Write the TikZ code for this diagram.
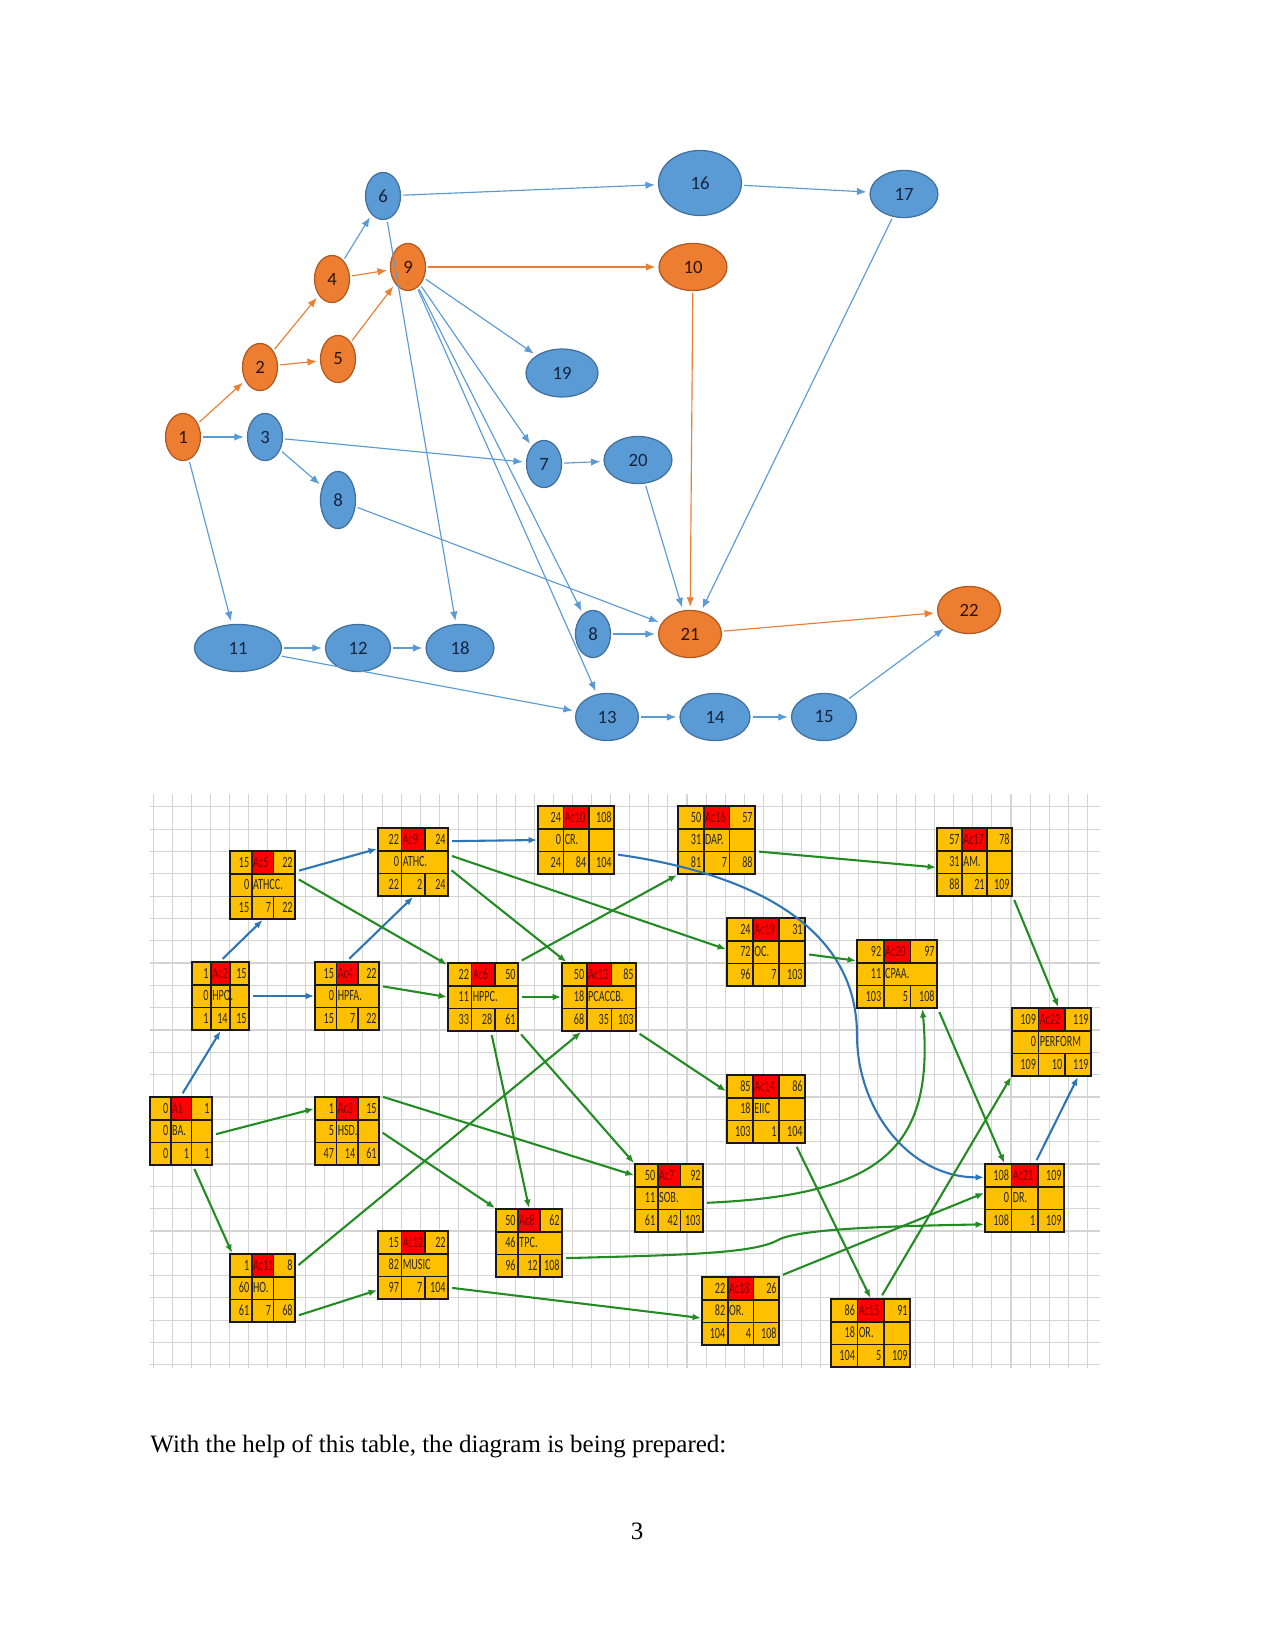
\documentclass[tikz,border=0pt]{standalone}
\usepackage{fontspec}
\setmainfont{Liberation Serif}
\newfontfamily\diafont{Carlito}
\newfontfamily\cellfont[FakeStretch=0.65]{Carlito}
\usetikzlibrary{arrows.meta,shapes.geometric}

\definecolor{evblue}{HTML}{5B9BD5}
\definecolor{evblueline}{HTML}{41719C}
\definecolor{evorange}{HTML}{ED7D31}
\definecolor{evorangeline}{HTML}{AE5A21}
\definecolor{evtext}{HTML}{16243F}
\definecolor{evtextdark}{HTML}{2E1506}
\definecolor{cellyellow}{HTML}{FFC000}
\definecolor{cellred}{HTML}{FF0000}
\definecolor{celldark}{HTML}{7A0000}
\definecolor{linkgreen}{HTML}{228B22}
\definecolor{linkblue}{HTML}{2E75B6}
\definecolor{gridgray}{HTML}{D4D4D4}

\newcommand{\actbox}[7][1]{%
  \begin{scope}[shift={(#3)}]
    \fill[cellyellow] (0,0) rectangle (#4,68);
    \fill[cellred] (#4/3,0) rectangle (2*#4/3,68/3);
    \draw[cellline] (0,68/3) -- (#4,68/3) (0,136/3) -- (#4,136/3)
      (#4/3,0) -- (#4/3,68) (2*#4/3,0) -- (2*#4/3,68/3) (2*#4/3,136/3) -- (2*#4/3,68);
    \ifnum#1=1 \draw[cellline] (2*#4/3,68/3) -- (2*#4/3,136/3);\fi
    \node[boxframe, minimum width=#4*0.48pt] (#2) at (#4/2,34) {};
    \foreach \ta/\tb/\tc in {#5} {
      \node[celltext, anchor=mid east] at (#4/3-2,11.3) {\ta};
      \node[celltext, anchor=mid west, text=celldark] at (#4/3+1,11.3) {\tb};
      \node[celltext, anchor=mid east] at (#4-2,11.3) {\tc};}
    \foreach \ma/\mb in {#6} {
      \node[celltext, anchor=mid east] at (#4/3-2,34) {\ma};
      \node[celltext, anchor=mid west] at (#4/3+1,34) {\mb};}
    \foreach \ba/\bb/\bc in {#7} {
      \node[celltext, anchor=mid east] at (#4/3-2,56.7) {\ba};
      \node[celltext, anchor=mid east] at (2*#4/3-2,56.7) {\bb};
      \node[celltext, anchor=mid east] at (#4-2,56.7) {\bc};}
  \end{scope}}

\begin{document}
\begin{tikzpicture}[x=0.48pt,y=-0.48pt,
   ev/.style={ellipse, draw, line width=0.6pt, inner sep=0pt, font=\diafont\fontsize{9}{10}\selectfont},
   evb/.style={ev, fill=evblue, draw=evblueline, text=evtext},
   evo/.style={ev, fill=evorange, draw=evorangeline, text=evtextdark},
   evsize/.style 2 args={minimum width=#1, minimum height=#2},
   topblue/.style={evblue, line width=0.55pt, -{Latex[length=4.5pt,width=3.6pt]}, shorten >=1.5pt, shorten <=1pt},
   toporange/.style={evorange, line width=0.55pt, -{Latex[length=4.5pt,width=3.6pt]}, shorten >=1.5pt, shorten <=1pt},
   cellline/.style={black!90, line width=0.8pt},
   boxframe/.style={draw=black!90, line width=1pt, rectangle, inner sep=0pt, minimum height=32.64pt},
   celltext/.style={inner sep=0pt, font=\cellfont\fontsize{7.5}{9}\selectfont, text=black!85},
   gridline/.style={gridgray, line width=0.5pt},
   linkg/.style={linkgreen, line width=1pt, -{Latex[length=4pt,width=3.2pt]}, shorten <=1.5pt},
   linkb/.style={linkblue, line width=1pt, -{Latex[length=4pt,width=3.2pt]}, shorten <=1.5pt}]
   \fill[white] (0,0) rectangle (1275,1650);
   \useasboundingbox (0,0) rectangle (1275,1650);

   \node[evo, evsize={16.8pt}{22.6pt}] (n1) at (183,437) {1};
   \node[evo, evsize={16.8pt}{22.6pt}] (n2) at (260,367) {2};
   \node[evb, evsize={16.8pt}{22.6pt}] (n3) at (265,437) {3};
   \node[evo, evsize={16.8pt}{22.6pt}] (n4) at (332,279) {4};
   \node[evo, evsize={16.8pt}{22.6pt}] (n5) at (338,359) {5};
   \node[evb, evsize={16.8pt}{22.6pt}] (n6) at (383,196) {6};
   \node[evo, evsize={16.8pt}{22.6pt}] (n9) at (408,267) {9};
   \node[evb, evsize={34.6pt}{23pt}] (n19) at (562,373) {19};
   \node[evb, evsize={16.8pt}{22.6pt}] (n7) at (544,464) {7};
   \node[evb, evsize={16.8pt}{27.4pt}] (n8a) at (338,500) {8};
   \node[evb, evsize={32.6pt}{22.6pt}] (n20) at (638,460) {20};
   \node[evb, evsize={39.8pt}{31.2pt}] (n16) at (700,183) {16};
   \node[evb, evsize={32.6pt}{22.6pt}] (n17) at (904,194) {17};
   \node[evo, evsize={32.6pt}{22.6pt}] (n10) at (693,267) {10};
   \node[evb, evsize={41.8pt}{22.6pt}] (n11) at (238,648) {11};
   \node[evb, evsize={31.2pt}{22.6pt}] (n12) at (358,648) {12};
   \node[evb, evsize={32.6pt}{22.6pt}] (n18) at (460,648) {18};
   \node[evb, evsize={16.8pt}{22.6pt}] (n8b) at (593,634) {8};
   \node[evo, evsize={30.2pt}{22.6pt}] (n21) at (690,634) {21};
   \node[evo, evsize={30.2pt}{22.6pt}] (n22) at (969,610) {22};
   \node[evb, evsize={30.2pt}{22.6pt}] (n13) at (607,717) {13};
   \node[evb, evsize={33.6pt}{22.6pt}] (n14) at (715,717) {14};
   \node[evb, evsize={31.2pt}{22.6pt}] (n15) at (824,717) {15};

   \path[toporange]
    (n1) edge (n2)
    (n2) edge (n4)
         edge (n5)
    (n4) edge (n9)
    (n5) edge (n9)
    (n9) edge (n10)
    (n10) edge (n21)
    (n21) edge (n22);
   \path[topblue]
    (n1) edge (n3)
         edge (n11)
    (n3) edge (n7)
         edge (n8a)
    (n4) edge (n6)
    (n6) edge (n16)
         edge (n18)
    (n16) edge (n17)
    (n17) edge (n21)
    (n9) edge (n19)
         edge (n7)
         edge (n8b)
         edge (n13)
    (n7) edge (n20)
    (n20) edge (n21)
    (n8a) edge (n21)
    (n8b) edge (n21)
    (n11) edge (n12)
          edge (n13)
    (n12) edge (n18)
    (n13) edge (n14)
    (n14) edge (n15)
    (n15) edge (n22);

   \begin{scope}
    \clip (150,794) rectangle (1100,1368);
    \foreach \gx in {0,...,49}
      \draw[gridline] (153.3+\gx*19.06,794) -- (153.3+\gx*19.06,1368);
    \foreach \gy in {0,...,25}
      \draw[gridline] (150,806.7+\gy*22.33) -- (1100,806.7+\gy*22.33);
   \end{scope}

   \actbox{a1}{150,1097}{62}{0/A1/1}{0/BA.}{0/1/1}
   \actbox{ac2}{192,962}{57}{1/Ac2/15}{0/HPO.}{1/14/15}
   \actbox{ac3}{315,1097}{64}{1/Ac3/15}{5/HSD.}{47/14/61}
   \actbox[0]{ac4}{315,962}{64}{15/Ac4/22}{0/HPFA.}{15/7/22}
   \actbox[0]{ac5}{230,851}{65}{15/Ac5/22}{0/ATHCC.}{15/7/22}
   \actbox[0]{ac6}{448,963}{70}{22/Ac6/50}{11/HPPC.}{33/28/61}
   \actbox[0]{ac7}{635,1164}{68}{50/Ac7/92}{11/SOB.}{61/42/103}
   \actbox[0]{ac8}{496,1209}{66}{50/Ac8/62}{46/TPC.}{96/12/108}
   \actbox[0]{ac9}{378,828}{70}{22/Ac9/24}{0/ATHC.}{22/2/24}
   \actbox{ac10}{538,806}{76}{24/Ac10/108}{0/CR.}{24/84/104}
   \actbox{ac11}{230,1254}{65}{1/Ac11/8}{60/HO.}{61/7/68}
   \actbox[0]{ac12}{378,1231}{70}{15/Ac12/22}{82/MUSIC}{97/7/104}
   \actbox[0]{ac13}{562,963}{74}{50/Ac13/85}{18/PCACCB.}{68/35/103}
   \actbox{ac14}{727,1075}{78}{85/Ac14/86}{18/EIIC}{103/1/104}
   \actbox{ac15}{831,1299}{79}{86/Ac15/91}{18/OR.}{104/5/109}
   \actbox{ac16}{678,806}{77}{50/Ac16/57}{31/DAP.}{81/7/88}
   \actbox{ac17}{937,828}{75}{57/Ac17/78}{31/AM.}{88/21/109}
   \actbox{ac18}{702,1277}{77}{22/Ac18/26}{82/OR.}{104/4/108}
   \actbox{ac19}{727,918}{78}{24/Ac19/31}{72/OC.}{96/7/103}
   \actbox[0]{ac20}{857,940}{80}{92/Ac20/97}{11/CPAA.}{103/5/108}
   \actbox{ac21}{985,1164}{79}{108/Ac21/109}{0/DR.}{108/1/109}
   \actbox[0]{ac22}{1012,1008}{79}{109/Ac22/119}{0/PERFORM}{109/10/119}

   \coordinate (crbend) at (857,1035);
   \path[linkb]
    (a1.north) edge (ac2.south)
    (ac2.north) edge (ac5.south)
    (ac2.east) edge (ac4.west)
    (ac4.north) edge (ac9.south)
    (ac5.22) edge (ac9.160)
    (ac9.30) edge (ac10.west)
    (ac21.73) edge (ac22.-53);
   \draw[linkb] (ac10.-20) to[out=-8,in=90] (crbend) to[out=-90,in=180] (ac21.153);

   \path[linkg]
    (a1.-7) edge (ac3.146)
    (a1.-71) edge (ac11.131)
    (ac5.12) edge (ac6.138)
    (ac4.17) edge (ac6.west)
    (ac9.-10) edge (ac13.133)
    (ac9.11) edge (ac19.176)
    (ac6.north east) edge (ac16.south west)
    (ac6.east) edge (ac13.west)
    (ac6.-77) edge (ac8.north)
    (ac6.south east) edge (ac7.north west)
    (ac13.south east) edge (ac14.156)
    (ac16.-16) edge (ac17.188)
    (ac19.-3) edge (ac20.162)
    (ac17.south east) edge (ac22.79)
    (ac20.south east) edge (ac21.120)
    (ac3.north east) edge (ac7.147)
    (ac3.east) edge (ac8.north west)
    (ac11.32) edge (ac13.243)
    (ac11.-40) edge (ac12.215)
    (ac12.-32) edge (ac18.190)
    (ac18.north east) edge (ac21.173)
    (ac14.-50) edge (ac15.north)
    (ac15.74) edge (ac22.south west);
   \draw[linkg] (ac7.-8) .. controls (880,1195) and (935,1150) .. (ac20.-54);
   \draw[linkg] (ac8.-24) .. controls (690,1255) and (755,1253) .. (778,1240)
     .. controls (800,1228) and (900,1226) .. (ac21.213);

   \node[anchor=base west, inner sep=0pt, font=\fontsize{12}{14}\selectfont] (caption) at (150,1452)
     {With the help of this table, the diagram is being prepared:};
   \node[anchor=base, inner sep=0pt, font=\fontsize{12}{14}\selectfont] (pagenum) at (637,1539) {3};
\end{tikzpicture}
\end{document}
